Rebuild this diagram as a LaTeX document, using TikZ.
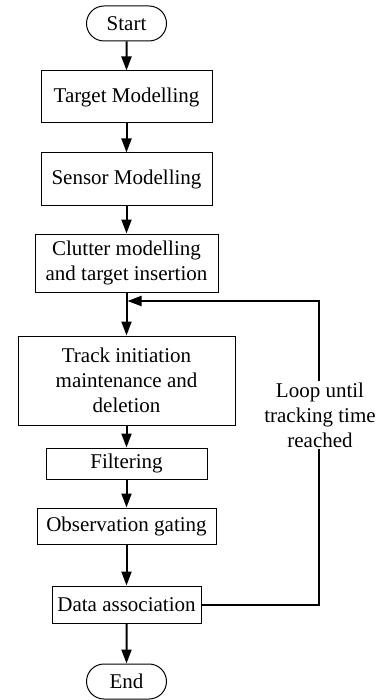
\documentclass[tikz,border=0pt]{standalone}
\usepackage{fontspec}
\setmainfont{Liberation Serif}
\usetikzlibrary{arrows.meta, shapes.misc}
\tikzset{
  flow box/.style={
    draw,
    line width=0.5pt,
    align=center,
    inner sep=2pt,
    font=\fontsize{10.5}{12.5}\selectfont
  },
  terminal/.style={
    flow box,
    rounded rectangle,
    minimum width=44pt,
    minimum height=17.5pt
  },
  flow arrow/.style={
    -{Triangle[length=7pt,width=5pt]},
    line width=1pt
  },
  loop label/.style={
    fill=white,
    inner sep=1pt,
    align=center,
    font=\fontsize{10.5}{12.5}\selectfont
  }
}

\begin{document}
\begin{tikzpicture}[x=0.5pt, y=-0.5pt]
  \useasboundingbox (0,0) rectangle (385,700);

  % Steps
  \node[terminal] (start) at (126.5, 23.5) {Start};
  \node[flow box, minimum width=85.5pt, minimum height=26pt] (target) at (126.5, 97) {Target Modelling};
  \node[flow box, minimum width=85.5pt, minimum height=26pt] (sensor) at (126.5, 179) {Sensor Modelling};
  \node[flow box, minimum width=91.5pt, minimum height=29pt] (clutter) at (126.5, 263) {Clutter modelling\\and target insertion};
  \node[flow box, minimum width=108.5pt, minimum height=44.5pt] (track) at (126.5, 380.5) {Track initiation\\maintenance and\\deletion};
  \node[flow box, minimum width=80.5pt, minimum height=15.5pt] (filter) at (126.5, 463.5) {Filtering};
  \node[flow box, minimum width=89.5pt, minimum height=18pt] (gating) at (126.5, 526) {Observation gating};
  \node[flow box, minimum width=74.5pt, minimum height=18.5pt] (assoc) at (126.5, 604.5) {Data association};
  \node[terminal] (end) at (126.5, 681.5) {End};

  % Main flow
  \draw[flow arrow] (start) -- (target);
  \draw[flow arrow] (target) -- (sensor);
  \draw[flow arrow] (sensor) -- (clutter);
  \draw[flow arrow] (clutter) -- (track);
  \draw[flow arrow] (track) -- (filter);
  \draw[flow arrow] (filter) -- (gating);
  \draw[flow arrow] (gating) -- (assoc);
  \draw[flow arrow] (assoc) -- (end);

  % Loop back
  \coordinate (loop corner) at (319, 301);
  \coordinate (loop join) at (127.5, 301);
  \draw[flow arrow] (assoc.east) -| (loop corner) -- (loop join);
  \node[loop label] (loop text) at (320, 415) {Loop until\\tracking time\\reached};
\end{tikzpicture}
\end{document}
